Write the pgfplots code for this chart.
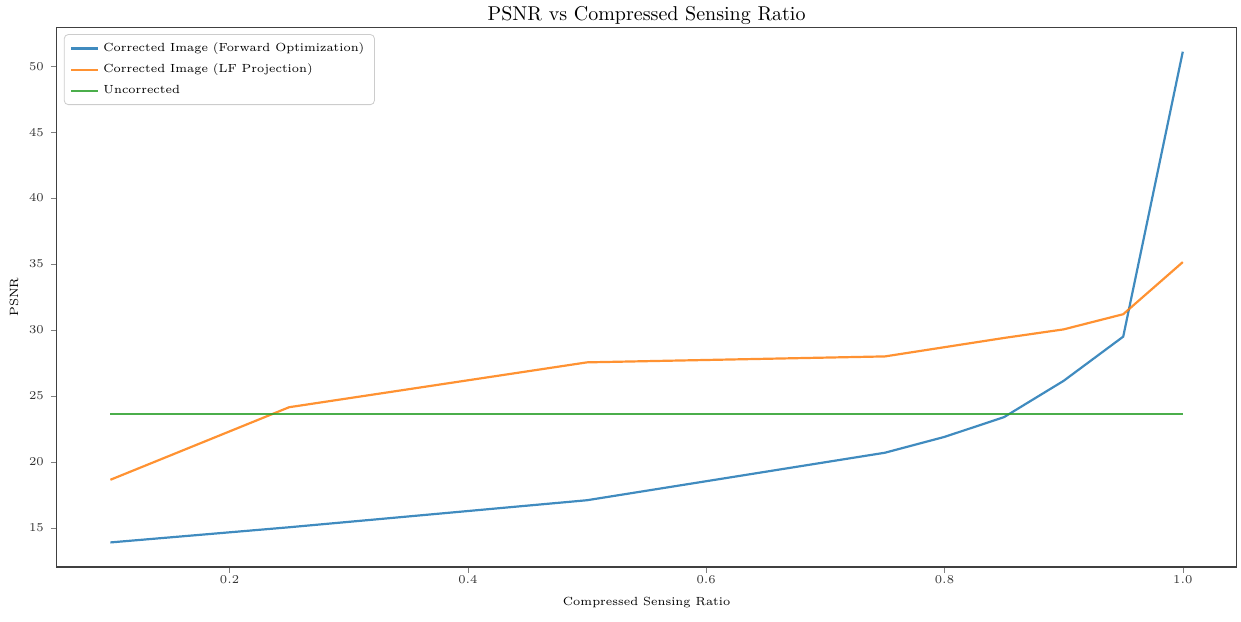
\documentclass[border={1.5pt 1.5pt 2pt 0pt}]{standalone}
\usepackage{pgfplots}
\pgfplotsset{compat=1.18}
\definecolor{tblue}{HTML}{1F77B4}
\definecolor{torange}{HTML}{FF7F0E}
\definecolor{tgreen}{HTML}{2CA02C}
\begin{document}
\begin{tikzpicture}
\begin{axis}[
  scale only axis,
  width=590pt, height=270pt,
  xmin=0.055, xmax=1.045, ymin=12.04, ymax=52.96,
  xtick={0.2,0.4,0.6,0.8,1.0},
  ytick={15,20,25,30,35,40,45,50},
  tick align=outside, tick pos=left,
  major tick length=3pt,
  tick label style={font=\fontsize{6.5}{7.8}\selectfont, color=black!80},
  xticklabel style={yshift=2pt, /pgf/number format/.cd,fixed,fixed zerofill,precision=1},
  axis line style={black!75, line width=0.6pt},
  title={PSNR vs Compressed Sensing Ratio},
  title style={font=\fontsize{10}{12}\selectfont, yshift=-8.4pt},
  xlabel={Compressed Sensing Ratio},
  ylabel={PSNR},
  xlabel style={font=\fontsize{5.9}{7.1}\selectfont, inner ysep=5.3pt, yshift=2pt},
  ylabel style={font=\fontsize{6}{7.2}\selectfont, yshift=-1.5pt},
  legend cell align=left,
  legend style={font=\fontsize{5.9}{7.1}\selectfont, draw=black!20, rounded corners=2pt, fill=white, fill opacity=0.8, text opacity=1, inner xsep=3pt, inner ysep=2pt, row sep=0.8pt, at={(0.006,0.987)}, anchor=north west},
  legend image code/.code={\draw[#1] (0pt,0pt) -- (13.5pt,0pt);},
  every axis plot/.append style={line width=1.1pt, opacity=0.85},
]
\addplot[tblue] coordinates {(0.1,13.9) (0.25,15.05) (0.5,17.1) (0.75,20.7) (0.8,21.9) (0.85,23.4) (0.9,26.15) (0.95,29.5) (1.0,51.1)};
\addlegendentry{Corrected Image (Forward Optimization)}
\addplot[torange] coordinates {(0.1,18.65) (0.25,24.15) (0.5,27.55) (0.75,28.0) (0.8,28.7) (0.85,29.4) (0.9,30.05) (0.95,31.2) (1.0,35.15)};
\addlegendentry{Corrected Image (LF Projection)}
\addplot[tgreen] coordinates {(0.1,23.62) (0.25,23.62) (0.5,23.62) (0.75,23.62) (1.0,23.62)};
\addlegendentry{Uncorrected}
\end{axis}
\end{tikzpicture}
\end{document}
